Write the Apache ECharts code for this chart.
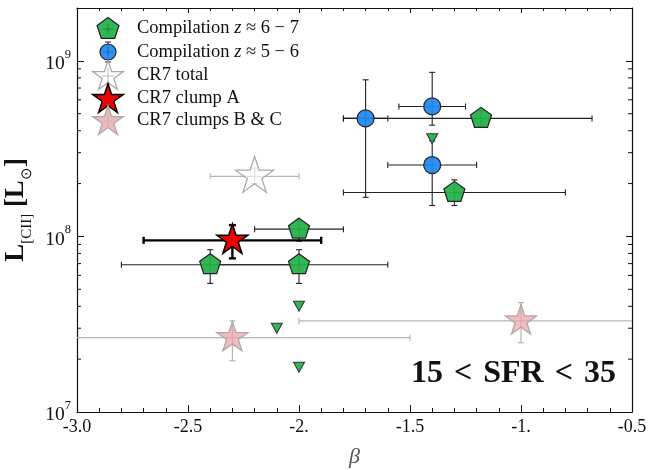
<!DOCTYPE html>
<html><head><meta charset="utf-8">
<script src="https://cdn.jsdelivr.net/npm/echarts@6/dist/echarts.min.js"></script>
<style>html,body{margin:0;padding:0;background:#fff}#c{width:652px;height:470px}</style>
</head><body><div id="c"></div>
<script>
// ---------- data ----------
const xTickValues = [-3, -2.5, -2, -1.5, -1, -0.5];
const xTickLabels = ['-3.0', '-2.5', '-2.', '-1.5', '-1.', '-0.5'];
const yMinorTicks = [2e7, 3e7, 4e7, 5e7, 6e7, 7e7, 8e7, 9e7, 2e8, 3e8, 4e8, 5e8, 6e8, 7e8, 8e8, 9e8];
// [beta, L, betaLow, betaHigh, Llow, Lhigh]
const comp67 = [
  [-1.18, 4.7e8, -1.80, -0.68, 4.25e8, 5.2e8],
  [-1.30, 1.78e8, -1.80, -0.80, 1.5e8, 2.1e8],
  [-2.00, 1.1e8, -2.20, -1.80, 9.4e7, 1.23e8],
  [-2.40, 6.9e7, -2.80, -2.00, 5.4e7, 8.4e7],
  [-2.00, 6.9e7, -2.40, -1.60, 5.4e7, 8.4e7]
];
const comp67Limits = [[-1.4, 3.6e8], [-2.0, 4.0e7], [-2.1, 3.0e7], [-2.0, 1.8e7]];
const comp56 = [
  [-1.70, 4.7e8, -1.80, -1.60, 1.67e8, 7.8e8],
  [-1.40, 5.5e8, -1.55, -1.25, 4.3e8, 8.6e8],
  [-1.40, 2.55e8, -1.60, -1.20, 1.5e8, 3.5e8]
];
const cr7Total = [[-2.2, 2.2e8, -2.4, -2.0, 2.0e8, 2.45e8]];
const cr7A = [[-2.3, 9.5e7, -2.7, -1.9, 7.5e7, 1.16e8]];
const cr7BC = [
  [-2.3, 2.65e7, -3.1, -1.5, 1.96e7, 3.3e7],
  [-1.0, 3.3e7, -2.0, 0.0, 2.48e7, 4.2e7]
];
const X_MIN = -3, X_MAX = -0.5, Y_MIN = 1e7, Y_MAX = 2e9;

// ---------- shapes ----------
const STAR = 'path://M50 0 L61.17 34.63 L97.55 34.55 L68.07 55.87 L79.39 90.45 L50 69 L20.61 90.45 L31.93 55.87 L2.45 34.55 L38.83 34.63 Z';
const PENT = 'path://M50 0 L97.55 34.55 L79.39 90.45 L20.61 90.45 L2.45 34.55 Z';
const TRI = 'path://M0 0 L10 0 L5 9 Z';
const OFF = [0, '-5.3%'];
const SERIF = 'Liberation Serif';
const GREEN = 'rgba(34,176,70,0.93)';
const BLUE = 'rgba(30,136,240,0.93)';

function errRender(color, width, cap) {
  return function (params, api) {
    const x = api.value(0), y = api.value(1);
    const a = api.coord([api.value(2), y]);
    const b = api.coord([api.value(3), y]);
    const c = api.coord([x, api.value(4)]);
    const d = api.coord([x, api.value(5)]);
    const st = { stroke: color, lineWidth: width, fill: null };
    const L = (x1, y1, x2, y2) => ({ type: 'line', shape: { x1, y1, x2, y2 }, style: st });
    return {
      type: 'group',
      children: [
        L(a[0], a[1], b[0], b[1]),
        L(a[0], a[1] - cap, a[0], a[1] + cap),
        L(b[0], b[1] - cap, b[0], b[1] + cap),
        L(c[0], c[1], d[0], d[1]),
        L(c[0] - cap, c[1], c[0] + cap, c[1]),
        L(d[0] - cap, d[1], d[0] + cap, d[1])
      ]
    };
  };
}
function errSeries(data, color, width, cap) {
  return { type: 'custom', data: data, renderItem: errRender(color, width, cap), clip: true, z: 2, silent: true,
    encode: { x: 0, y: 1 } };
}

function starPts(cx, cy, R) {
  const r = R * 0.38, pts = [];
  for (let i = 0; i < 10; i++) {
    const ang = -Math.PI / 2 + i * Math.PI / 5;
    const rr = i % 2 === 0 ? R : r;
    pts.push([cx + rr * Math.cos(ang), cy + rr * Math.sin(ang)]);
  }
  return pts;
}
function pentPts(cx, cy, R) {
  const pts = [];
  for (let i = 0; i < 5; i++) {
    const ang = -Math.PI / 2 + i * 2 * Math.PI / 5;
    pts.push([cx + R * Math.cos(ang), cy + R * Math.sin(ang)]);
  }
  return pts;
}

// ---------- legend (graphic) ----------
const LX = 108, TX = 137, rows = [28, 52, 75, 98, 120];
const legendText = [
  '{a|Compilation }{i|z}{a| ≈ 6 − 7}',
  '{a|Compilation }{i|z}{a| ≈ 5 − 6}',
  '{a|CR7 total}',
  '{a|CR7 clump A}',
  '{a|CR7 clumps B & C}'
];
const g = [];
function gl(x1, y1, x2, y2, color, w, z) {
  return { type: 'line', shape: { x1, y1, x2, y2 }, style: { stroke: color, lineWidth: w || 1 }, z: z || 10 };
}
g.push({ type: 'polygon', shape: { points: pentPts(LX, rows[0] + 1, 11.5) }, style: { fill: GREEN, stroke: '#222', lineWidth: 1.2 }, z: 11 });
g.push(gl(LX - 5, rows[0] + 1, LX + 5, rows[0] + 1, 'rgba(0,0,0,0.25)', 1, 12), gl(LX, rows[0] - 4, LX, rows[0] + 6, 'rgba(0,0,0,0.25)', 1, 12));
g.push(gl(LX, rows[1] - 10, LX, rows[1] + 10, '#222'), gl(LX - 3, rows[1] - 10, LX + 3, rows[1] - 10, '#222'), gl(LX - 3, rows[1] + 10, LX + 3, rows[1] + 10, '#222'));
g.push({ type: 'circle', shape: { cx: LX, cy: rows[1], r: 8 }, style: { fill: BLUE, stroke: '#222', lineWidth: 1.2 }, z: 11 });
g.push(gl(LX - 5, rows[1], LX + 5, rows[1], 'rgba(0,0,0,0.2)', 1, 12), gl(LX, rows[1] - 5, LX, rows[1] + 5, 'rgba(0,0,0,0.2)', 1, 12));
g.push({ type: 'polygon', shape: { points: starPts(LX, rows[2] + 1.5, 16) }, style: { fill: '#fff', stroke: '#aaa', lineWidth: 1.3 }, z: 11 });
g.push(gl(LX, rows[2] - 7, LX, rows[2] + 8, '#bbb', 1, 12), gl(LX - 6, rows[2] + 1, LX + 6, rows[2] + 1, '#bbb', 1, 12));
g.push({ type: 'polygon', shape: { points: starPts(LX, rows[3] + 1.5, 16) }, style: { fill: '#ee0000', stroke: '#000', lineWidth: 1.5 }, z: 11 });
g.push({ type: 'polygon', shape: { points: starPts(LX, rows[4] + 1.5, 16) }, style: { fill: 'rgba(240,160,160,0.75)', stroke: '#aaa', lineWidth: 1.3 }, z: 11 });
g.push(gl(LX, rows[4] - 7, LX, rows[4] + 8, '#bbb', 1, 12), gl(LX - 6, rows[4] + 1, LX + 6, rows[4] + 1, '#bbb', 1, 12));
legendText.forEach((t, i) => {
  g.push({ type: 'text', x: TX, y: rows[i], z: 12,
    style: { text: t, verticalAlign: 'middle', align: 'left',
      rich: {
        a: { fontFamily: SERIF, fontSize: 18.5, fill: '#111' },
        i: { fontFamily: SERIF, fontSize: 18.5, fontStyle: 'italic', fill: '#111' }
      } } });
});
g.push({ type: 'text', x: 411, y: 374, z: 12,
  style: { text: '{n|15}{r|<}{n|SFR}{r|<}{n|35}', verticalAlign: 'middle', align: 'left',
    rich: {
      n: { fontFamily: SERIF, fontSize: 32, fontWeight: 'bold', fill: '#111' },
      r: { fontFamily: SERIF, fontSize: 32, fontWeight: 'bold', fill: '#111', padding: [0, 11] }
    } } });

// ---------- axes ----------
const xLabelFmt = v => {
  const i = xTickValues.findIndex(t => Math.abs(t - v) < 1e-6);
  return i >= 0 ? xTickLabels[i] : '';
};
const yLabelFmt = v => {
  const e = Math.log10(v);
  if (Math.abs(e - Math.round(e)) > 1e-6) return '';
  return '{b|10}{s|' + Math.round(e) + '}';
};
const axLine = { show: true, onZero: false, lineStyle: { color: '#111', width: 1.2 } };

const option = {
  backgroundColor: '#fff',
  animation: false,
  grid: { left: 77, right: 20, top: 8, bottom: 58, outerBoundsMode: 'none', containLabel: false },
  xAxis: [
    { type: 'value', min: X_MIN, max: X_MAX, interval: 0.5, position: 'bottom',
      axisLine: axLine,
      axisTick: { show: true, inside: true, length: 7, lineStyle: { color: '#111' } },
      minorTick: { show: true, splitNumber: 5, length: 4, lineStyle: { color: '#111' } },
      splitLine: { show: false },
      axisLabel: { formatter: xLabelFmt, fontFamily: SERIF, fontSize: 18, color: '#111', margin: 6, showMinLabel: true, showMaxLabel: true },
      name: 'β', nameLocation: 'middle', nameGap: 34,
      nameTextStyle: { fontFamily: SERIF, fontStyle: 'italic', fontSize: 22, color: '#555' } },
    { type: 'value', min: X_MIN, max: X_MAX, interval: 0.5, position: 'top',
      axisLine: axLine,
      axisTick: { show: true, inside: true, length: 5, lineStyle: { color: '#111' } },
      minorTick: { show: true, splitNumber: 5, length: 3, lineStyle: { color: '#111' } },
      splitLine: { show: false }, axisLabel: { show: false } }
  ],
  yAxis: [
    { type: 'log', logBase: 10, min: Y_MIN, max: Y_MAX, position: 'left',
      axisLine: axLine,
      axisTick: { show: true, inside: true, length: 7, lineStyle: { color: '#111' } },
      splitLine: { show: false },
      axisLabel: { formatter: yLabelFmt, margin: 6, showMinLabel: true, showMaxLabel: true,
        rich: {
          b: { fontFamily: SERIF, fontSize: 19.5, color: '#111', lineHeight: 26, verticalAlign: 'bottom' },
          s: { fontFamily: SERIF, fontSize: 12.5, color: '#111', lineHeight: 12, verticalAlign: 'top' }
        } },
      name: '{b|L}{s|[CII]}{b| [L}{s|⊙}{b|]}', nameLocation: 'middle', nameRotate: 90, nameGap: 40,
      nameTextStyle: {
        rich: {
          b: { fontFamily: SERIF, fontSize: 27, fontWeight: 'bold', color: '#111', lineHeight: 32, verticalAlign: 'top' },
          s: { fontFamily: SERIF, fontSize: 15, color: '#111', lineHeight: 14, verticalAlign: 'bottom' }
        } } },
    { type: 'log', logBase: 10, min: Y_MIN, max: Y_MAX, position: 'right',
      axisLine: axLine,
      axisTick: { show: true, inside: true, length: 6, lineStyle: { color: '#111' } },
      splitLine: { show: false }, axisLabel: { show: false } }
  ],
  graphic: g,
  series: [
    { type: 'custom', data: yMinorTicks.map(v => [X_MIN, v]), clip: false, silent: true, z: 5,
      encode: { x: 0, y: 1 },
      renderItem: function (params, api) {
        const p = api.coord([X_MIN, api.value(1)]);
        const q = api.coord([X_MAX, api.value(1)]);
        const st = { stroke: '#111', lineWidth: 1 };
        return { type: 'group', children: [
          { type: 'line', shape: { x1: p[0], y1: p[1], x2: p[0] + 4, y2: p[1] }, style: st },
          { type: 'line', shape: { x1: q[0] - 4, y1: q[1], x2: q[0], y2: q[1] }, style: st }
        ] };
      } },
    errSeries(cr7BC, '#b5b5b5', 1.2, 3),
    errSeries(cr7Total, '#b5b5b5', 1.2, 3),
    errSeries(comp67, '#222', 1.1, 3),
    errSeries(comp56, '#222', 1.1, 3),
    errSeries(cr7A, '#000', 2.4, 3.5),
    { name: 'CR7 clumps B & C', type: 'scatter', data: cr7BC.map(d => [d[0], d[1]]), symbol: STAR, symbolSize: [31, 29.5], symbolOffset: OFF,
      itemStyle: { color: 'rgba(240,160,160,0.7)', borderColor: '#aaa', borderWidth: 1.3, opacity: 1 }, z: 3 },
    { name: 'CR7 total', type: 'scatter', data: cr7Total.map(d => [d[0], d[1]]), symbol: STAR, symbolSize: [38, 36], symbolOffset: OFF,
      itemStyle: { color: 'rgba(255,255,255,0.6)', borderColor: '#aaa', borderWidth: 1.3, opacity: 1 }, z: 3 },
    { name: 'lim', type: 'scatter', data: comp67Limits, symbol: TRI, symbolSize: [11, 10],
      itemStyle: { color: GREEN, borderColor: '#333', borderWidth: 1, opacity: 1 }, z: 3 },
    { name: 'Compilation z≈6-7', type: 'scatter', data: comp67.map(d => [d[0], d[1]]), symbol: PENT, symbolSize: [21, 20], symbolOffset: OFF,
      itemStyle: { color: GREEN, borderColor: '#222', borderWidth: 1.2, opacity: 1 }, z: 3 },
    { name: 'Compilation z≈5-6', type: 'scatter', data: comp56.map(d => [d[0], d[1]]), symbol: 'circle', symbolSize: 17,
      itemStyle: { color: BLUE, borderColor: '#222', borderWidth: 1.2, opacity: 1 }, z: 3 },
    { name: 'CR7 clump A', type: 'scatter', data: cr7A.map(d => [d[0], d[1]]), symbol: STAR, symbolSize: [31, 29.5], symbolOffset: OFF,
      itemStyle: { color: '#ee0000', borderColor: '#000', borderWidth: 1.5, opacity: 1 }, z: 4 }
  ]
};
const chart = echarts.init(document.getElementById('c'), null, { renderer: 'canvas' });
chart.setOption(option);
</script>
</body></html>
